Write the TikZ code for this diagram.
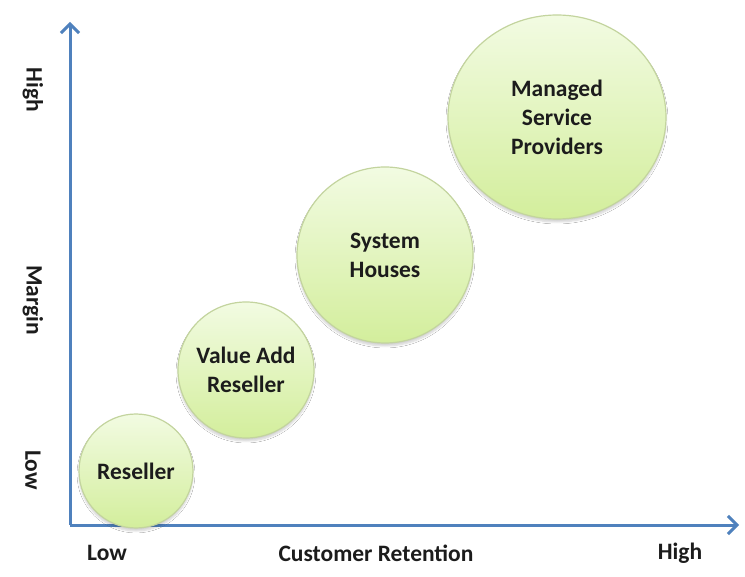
\documentclass[tikz,border=0pt]{standalone}
\usepackage{fontspec}
\setmainfont{Carlito}
\usetikzlibrary{arrows.meta,shapes.geometric,shadows.blur}
\definecolor{axisblue}{HTML}{4F81BD}
\definecolor{bubtop}{HTML}{F2FBE2}
\definecolor{bubbot}{HTML}{D3EE9C}
\definecolor{bubedge}{HTML}{C3D49E}
\definecolor{txt}{HTML}{1C1C1C}
\tikzset{
  bubble/.style={circle, draw=bubedge, line width=1.2pt, inner sep=0pt,
    top color=bubtop, bottom color=bubbot, text=txt, align=center,
    font=\bfseries\fontsize{23.5}{29}\selectfont,
    blur shadow={shadow xshift=0pt, shadow yshift=-3pt, shadow blur steps=6, shadow opacity=18}},
  axislabel/.style={text=txt, font=\bfseries\fontsize{23.5}{29}\selectfont},
  axisline/.style={draw=axisblue, line width=3pt,
    -{Straight Barb[length=9pt,width=18pt]}}
}
\begin{document}
\begin{tikzpicture}[x=1pt,y=-1pt]
  \useasboundingbox[fill=white] (0,0) rectangle (745,577);

  % axes
  \coordinate (origin) at (70,525);
  \coordinate (ytop) at (70,22);
  \coordinate (xend) at (739,525);
  \draw[axisline] (origin) -- (ytop);
  \draw[axisline] (origin) -- (xend);

  % bubbles
  \node[bubble, minimum size=114pt] (res) at (136,471) {Reseller};
  \node[bubble, minimum size=136pt] (var) at (246,370) {Value Add\\Reseller};
  \node[bubble, minimum size=176pt] (sys) at (385,255) {System\\Houses};
  \node[bubble, ellipse, minimum width=218pt, minimum height=204pt] (msp) at (557,117)
    {Managed\\Service\\Providers};

  % vertical axis labels
  \node[axislabel, rotate=-90] (ylow) at (33,470) {Low};
  \node[axislabel, rotate=-90] (ymid) at (33,300) {Margin};
  \node[axislabel, rotate=-90] (yhigh) at (33,90) {High};

  % horizontal axis labels
  \node[axislabel] (xlow) at (107,553) {Low};
  \node[axislabel] (xmid) at (376,553) {Customer Retention};
  \node[axislabel] (xhigh) at (680,553) {High};
\end{tikzpicture}
\end{document}
